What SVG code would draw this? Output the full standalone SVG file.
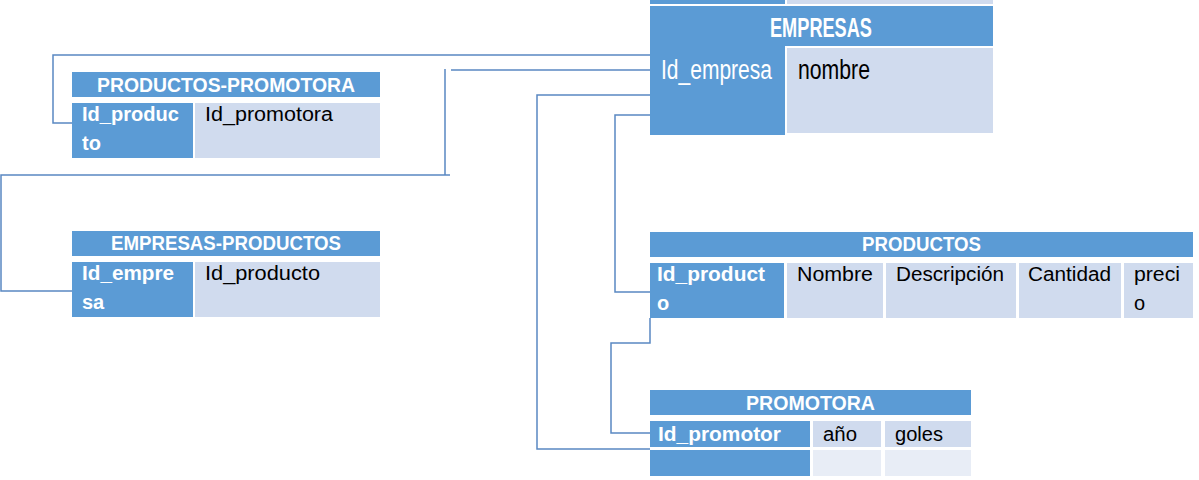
<svg xmlns="http://www.w3.org/2000/svg" width="1199" height="480" viewBox="0 0 1199 480">
<style>
.hd{fill:#5b9bd5}
.key{fill:#5b9bd5}
.cell{fill:#d0dbee}
.cell2{fill:#e8edf6}
.t{font-family:"Liberation Sans",Arial,sans-serif;font-size:20px}
.w{fill:#ffffff;font-weight:bold}
.b{fill:#000000}
.big{font-size:27px}
.c{stroke:#5a88c2;stroke-width:1.5;fill:none}
</style>
<rect width="1199" height="480" fill="#ffffff"/>
<g id="partial-top">
<rect class="key" x="650" y="-10" width="135" height="14"/>
<rect class="cell" x="787" y="-10" width="206" height="14"/>
</g>
<g id="connectors">
<path class="c" d="M650,55 H53 V123 H72"/>
<path class="c" d="M650,70 H451 M445,69 V175 M450,175 H1 V291 H72"/>
<path class="c" d="M650,95 H537 V449 H650"/>
<path class="c" d="M650,115 H615 V292 H650"/>
<path class="c" d="M650,318 V343 H611 V433 H650"/>
</g>
<g id="empresas">
<rect class="hd" x="650" y="6" width="343" height="40"/>
<rect class="key" x="650" y="46" width="135" height="89"/>
<rect class="cell" x="787" y="48" width="206" height="85"/>
<text class="t w big" x="770" y="37" textLength="102" lengthAdjust="spacingAndGlyphs">EMPRESAS</text>
<text class="t w big" x="661" y="79" textLength="111" lengthAdjust="spacingAndGlyphs" style="font-weight:normal">Id_empresa</text>
<text class="t b big" x="798" y="79" textLength="72" lengthAdjust="spacingAndGlyphs">nombre</text>
</g>
<g id="productos-promotora">
<rect class="hd" x="72" y="72" width="308" height="25"/>
<rect class="key" x="72" y="103" width="121" height="55"/>
<rect class="cell" x="195" y="103" width="185" height="55"/>
<text class="t w" x="97" y="92" textLength="258" lengthAdjust="spacingAndGlyphs">PRODUCTOS-PROMOTORA</text>
<text class="t w" x="82" y="121" textLength="97" lengthAdjust="spacingAndGlyphs">Id_produc</text>
<text class="t w" x="82" y="150">to</text>
<text class="t b" x="205" y="121" textLength="128" lengthAdjust="spacingAndGlyphs">Id_promotora</text>
</g>
<g id="empresas-productos">
<rect class="hd" x="72" y="231" width="308" height="25"/>
<rect class="key" x="72" y="262" width="121" height="55"/>
<rect class="cell" x="195" y="262" width="185" height="55"/>
<text class="t w" x="111" y="250" textLength="230" lengthAdjust="spacingAndGlyphs">EMPRESAS-PRODUCTOS</text>
<text class="t w" x="82" y="280" textLength="92" lengthAdjust="spacingAndGlyphs">Id_empre</text>
<text class="t w" x="82" y="309">sa</text>
<text class="t b" x="205" y="280" textLength="115" lengthAdjust="spacingAndGlyphs">Id_producto</text>
</g>
<g id="productos">
<rect class="hd" x="650" y="232" width="543" height="25"/>
<rect class="key" x="650" y="263" width="134" height="55"/>
<rect class="cell" x="787" y="263" width="96" height="55"/>
<rect class="cell" x="886" y="263" width="130" height="55"/>
<rect class="cell" x="1019" y="263" width="102" height="55"/>
<rect class="cell" x="1124" y="263" width="69" height="55"/>
<text class="t w" x="862" y="251" textLength="119" lengthAdjust="spacingAndGlyphs">PRODUCTOS</text>
<text class="t w" x="657" y="281" textLength="108" lengthAdjust="spacingAndGlyphs">Id_product</text>
<text class="t w" x="657" y="310">o</text>
<text class="t b" x="797" y="281" textLength="76" lengthAdjust="spacingAndGlyphs">Nombre</text>
<text class="t b" x="896" y="281" textLength="108" lengthAdjust="spacingAndGlyphs">Descripción</text>
<text class="t b" x="1028" y="281" textLength="83" lengthAdjust="spacingAndGlyphs">Cantidad</text>
<text class="t b" x="1134" y="281" textLength="46" lengthAdjust="spacingAndGlyphs">preci</text>
<text class="t b" x="1134" y="310">o</text>
</g>
<g id="promotora">
<rect class="hd" x="650" y="390" width="321" height="25"/>
<rect class="key" x="650" y="421" width="160" height="26"/>
<rect class="cell" x="813" y="421" width="68" height="26"/>
<rect class="cell" x="885" y="421" width="86" height="26"/>
<rect class="key" x="650" y="450" width="160" height="26"/>
<rect class="cell2" x="813" y="450" width="68" height="26"/>
<rect class="cell2" x="885" y="450" width="86" height="26"/>
<text class="t w" x="746" y="410" textLength="129" lengthAdjust="spacingAndGlyphs">PROMOTORA</text>
<text class="t w" x="658" y="441" textLength="123" lengthAdjust="spacingAndGlyphs">Id_promotor</text>
<text class="t b" x="823" y="441" textLength="34" lengthAdjust="spacingAndGlyphs">año</text>
<text class="t b" x="895" y="441" textLength="48" lengthAdjust="spacingAndGlyphs">goles</text>
</g>
</svg>
